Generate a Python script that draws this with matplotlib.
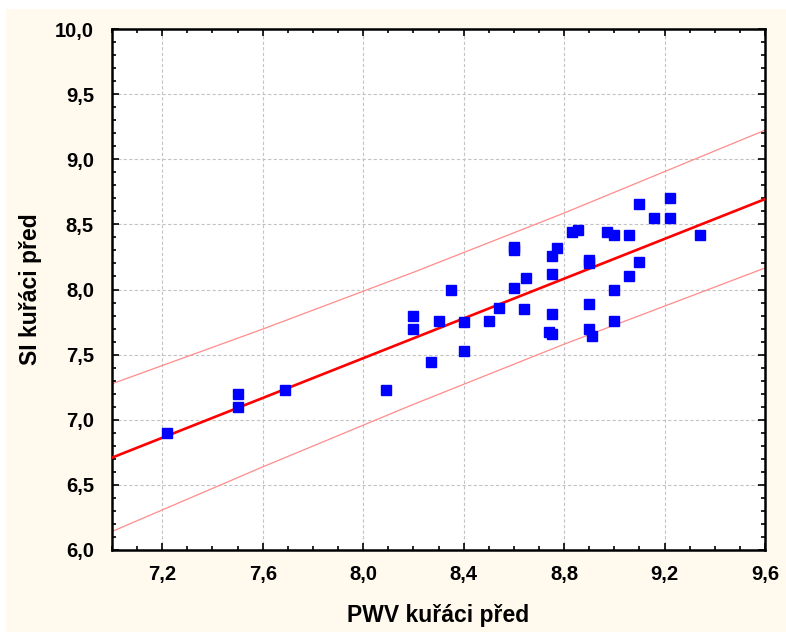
import matplotlib
matplotlib.use("Agg")
import matplotlib.pyplot as plt
from matplotlib.patches import Rectangle
from matplotlib.ticker import MultipleLocator, FuncFormatter

# PWV vs SI, smokers before
pwv = [7.22, 7.50, 7.50, 7.69, 8.09,
       8.20, 8.20, 8.27, 8.30, 8.35, 8.40, 8.40, 8.50, 8.54,
       8.60, 8.60, 8.60, 8.64, 8.65,
       8.74, 8.75, 8.75, 8.75, 8.75, 8.77, 8.83, 8.855,
       8.90, 8.90, 8.90, 8.90, 8.91, 8.97, 9.00, 9.00, 9.00,
       9.06, 9.06, 9.10, 9.10, 9.16, 9.22, 9.22, 9.34]
si = [6.90, 7.20, 7.10, 7.23, 7.23,
      7.80, 7.70, 7.44, 7.76, 8.00, 7.75, 7.53, 7.76, 7.86,
      8.33, 8.30, 8.01, 7.85, 8.09,
      7.67, 7.66, 7.81, 8.12, 8.26, 8.32, 8.44, 8.46,
      8.20, 8.23, 7.89, 7.70, 7.64, 8.44, 8.42, 8.00, 7.76,
      8.10, 8.42, 8.21, 8.66, 8.55, 8.70, 8.55, 8.42]

# regression line and prediction band
fit_x = [7.0, 7.6, 8.2, 8.8, 9.6]
fit_y = [6.709, 7.167, 7.625, 8.083, 8.694]
upper_y = [7.276, 7.696, 8.132, 8.587, 9.223]
lower_y = [6.142, 6.638, 7.118, 7.580, 8.165]

xlabel = "PWV kuřáci před"
ylabel = "SI kuřáci před"

plt.rcParams['font.family'] = ['Liberation Sans', 'DejaVu Sans']

fig = plt.figure(figsize=(7.86, 6.32), dpi=100, facecolor='white')
fig.patches.append(Rectangle((6 / 786, 0), 1, 1 - 9 / 632, transform=fig.transFigure,
                             facecolor='#fff9ee', edgecolor='none', zorder=-10))

ax = fig.add_axes([112 / 786, 1 - 550 / 632, 653 / 786, 521 / 632])
ax.set_facecolor('white')

ax.plot(fit_x, upper_y, color='#ff8c8c', lw=0.9, zorder=2)
ax.plot(fit_x, lower_y, color='#ff8c8c', lw=0.9, zorder=2)
ax.plot(fit_x, fit_y, color='#ff0000', lw=1.9, zorder=3)
ax.plot(pwv, si, 's', color='#0000ff', ms=6.7, mec='#0000ff', zorder=4)

ax.set_xlim(7.0, 9.6)
ax.set_ylim(6.0, 10.0)
ax.xaxis.set_major_locator(MultipleLocator(0.4))
ax.xaxis.set_minor_locator(MultipleLocator(0.1))
ax.yaxis.set_major_locator(MultipleLocator(0.5))
ax.yaxis.set_minor_locator(MultipleLocator(0.1))
ax.set_xticks([7.2, 7.6, 8.0, 8.4, 8.8, 9.2, 9.6])

comma = FuncFormatter(lambda v, p: f"{v:.1f}".replace('.', ','))
ax.xaxis.set_major_formatter(comma)
ax.yaxis.set_major_formatter(comma)

ax.grid(True, which='major', color='#c4c4c4', ls=(0, (3, 2)), lw=0.8)
ax.set_axisbelow(True)

ax.tick_params(which='both', direction='in', top=True, right=True, width=1.2, color='black')
ax.tick_params(which='major', length=5, labelsize=14.5)
ax.tick_params(axis='x', which='major', pad=11)
ax.tick_params(axis='y', which='major', pad=13)
ax.tick_params(which='minor', length=3)
for lab in ax.get_xticklabels() + ax.get_yticklabels():
    lab.set_fontweight('bold')

for s in ax.spines.values():
    s.set_linewidth(1.8)
    s.set_color('black')

ax.set_xlabel(xlabel, fontsize=16.5, fontweight='bold', labelpad=14)
ax.set_ylabel(ylabel, fontsize=16.5, fontweight='bold', labelpad=9)

fig.savefig('out.png', dpi=100, facecolor=fig.get_facecolor())
